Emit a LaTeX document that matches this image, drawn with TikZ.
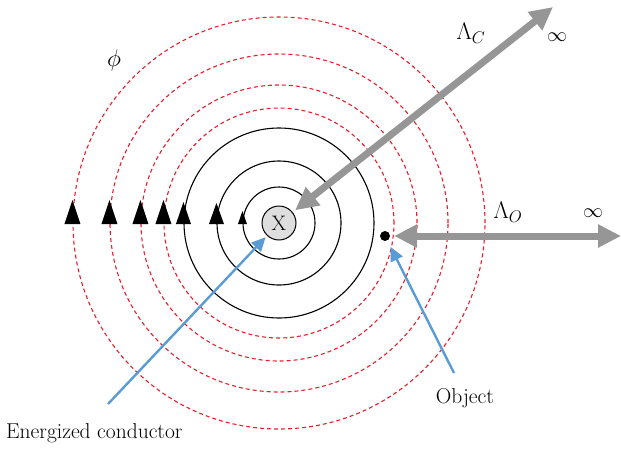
\RequirePackage{fix-cm}
\documentclass[tikz,border=0pt]{standalone}
\usetikzlibrary{arrows.meta,calc}
\definecolor{ringred}{RGB}{232,30,45}
\definecolor{bigarrow}{RGB}{150,150,150}
\definecolor{pointer}{RGB}{91,155,213}
\definecolor{xfill}{RGB}{222,222,222}
\tikzset{
  fieldring/.style={circle, draw=ringred, dashed, dash pattern=on 4pt off 3pt, line width=1.1pt, inner sep=0pt, minimum size=#1},
  fluxring/.style={circle, draw=black, line width=1.1pt, inner sep=0pt, minimum size=#1},
  bigdist/.style={draw=bigarrow, line width=7pt, {Triangle[length=23pt,width=22pt]}-{Triangle[length=23pt,width=22pt]}},
  pointarrow/.style={draw=pointer, line width=2.4pt, -{Triangle[length=14pt,width=13pt]}},
  lbl/.style={font=\fontsize{21.5}{26}\selectfont, inner sep=0pt},
  mlbl/.style={font=\fontsize{24}{28}\selectfont, inner sep=0pt},
  ilbl/.style={font=\fontsize{20}{24}\selectfont, inner sep=0pt},
}
\newcommand{\ringtip}[3]{\fill[black] ($(#1)+(-#2/2,1)$) -- ($(#1)+(#2/2,1)$) -- ($(#1)+(0,1-#3)$) -- cycle;}
\begin{document}
\begin{tikzpicture}[x=1pt,y=-1pt]
\useasboundingbox (0,0) rectangle (621,448);
% red dashed field rings
\node[fieldring=412pt] (r4) at (279,223) {};
\node[fieldring=338pt] (r3) at (279,223) {};
\node[fieldring=276pt] (r2) at (279,223) {};
\node[fieldring=230pt] (r1) at (279,223) {};
% black rings
\node[fluxring=190pt] (b3) at (279,223) {};
\node[fluxring=124pt] (b2) at (279,223) {};
\node[fluxring=72pt] (b1) at (279,223) {};
% conductor
\node[circle, draw=black, line width=1pt, fill=xfill, minimum size=34pt, inner sep=0pt, font=\fontsize{21}{24}\selectfont] (X) at (279,223) {X};
% arrowheads on rings
\ringtip{r4.west}{16}{24}
\ringtip{r3.west}{16}{24}
\ringtip{r2.west}{16}{24}
\ringtip{r1.west}{16}{24}
\ringtip{b3.west}{15}{22}
\ringtip{b2.west}{15}{21}
\ringtip{b1.west}{9}{13}
% object
\node[circle, fill=black, minimum size=10pt, inner sep=0pt] (obj) at (385,236) {};
\coordinate (cfar) at (553,7);
\coordinate (ofar) at (621,236);
\draw[bigdist, shorten <=3pt] (X) -- (cfar);
\draw[bigdist, shorten <=4pt] (obj) -- (ofar);
% labels
\node[mlbl] (lc) at (471,33) {$\Lambda_C$};
\node[ilbl] (ic) at (557,37) {$\infty$};
\node[mlbl] (lo) at (508,212) {$\Lambda_O$};
\node[ilbl] (io) at (593,213) {$\infty$};
\node[mlbl] (phi) at (114,60) {$\phi$};
\node[lbl, anchor=west] (ec) at (6,433) {Energized conductor};
\node[lbl] (ob) at (465,398) {Object};
% pointers
\coordinate (ecs) at (108,404);
\coordinate (obs) at (454,373);
\draw[pointarrow, shorten >=2pt] (ecs) -- (X);
\draw[pointarrow, shorten >=7pt] (obs) -- (obj);
\end{tikzpicture}
\end{document}
